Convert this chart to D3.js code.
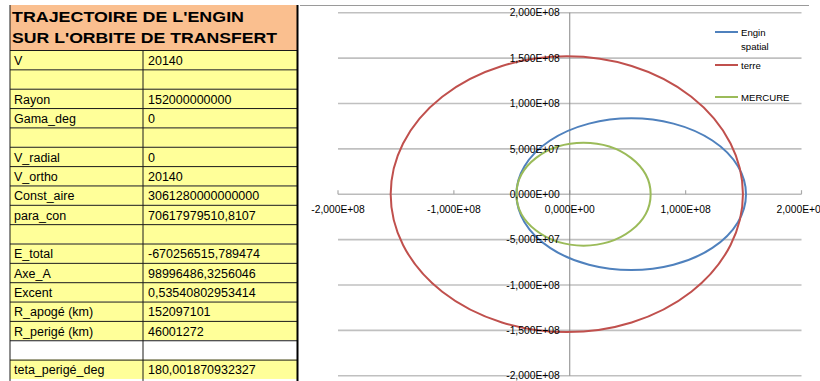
<!DOCTYPE html>
<html>
<head>
<meta charset="utf-8">
<script src="https://cdn.jsdelivr.net/npm/d3@7"></script>
<style>
  html, body { margin: 0; padding: 0; background: #fff; }
  svg { display: block; }
</style>
</head>
<body>
<svg id="sheet" width="820" height="381"></svg>
<script>
// ---- Worksheet block: transfer orbit parameters ----
const titleLines = ["TRAJECTOIRE DE L'ENGIN", "SUR L'ORBITE DE TRANSFERT"];
const paramNames = [
  "V", "", "Rayon", "Gama_deg", "", "V_radial", "V_ortho", "Const_aire",
  "para_con", "", "E_total", "Axe_A", "Excent", "R_apogé (km)",
  "R_perigé (km)", "", "teta_perigé_deg"
];
const paramValues = [
  "20140", "", "152000000000", "0", "", "0", "20140", "3061280000000000",
  "70617979510,8107", "", "-670256515,789474", "98996486,3256046",
  "0,53540802953414", "152097101", "46001272", "", "180,001870932327"
];

// ---- Orbits (km): perihelion / aphelion distances and perihelion direction ----
const seriesNames = ["Engin spatial", "terre", "MERCURE"];
const perihelia = [46001272, 149460000, 46000000];
const aphelia = [152097101, 154540000, 69820000];
const perihelionDeg = [180, 0, 180];
const seriesColors = ["#4F81BD", "#C0504D", "#9BBB59"];

// ---- Axis ticks ----
const xTicks = [-2e8, -1e8, 0, 1e8, 2e8];
const xTickLabels = ["-2,000E+08", "-1,000E+08", "0,000E+00", "1,000E+08", "2,000E+08"];
const yTicks = [2e8, 1.5e8, 1e8, 5e7, 0, -5e7, -1e8, -1.5e8, -2e8];
const yTickLabels = ["2,000E+08", "1,500E+08", "1,000E+08", "5,000E+07", "0,000E+00",
                     "-5,000E+07", "-1,000E+08", "-1,500E+08", "-2,000E+08"];

const svg = d3.select("#sheet");

// ================= Table =================
const tbl = svg.append("g");
const tLeft = 10, tMid = 143, tRight = 297.5;
const headTop = 5, headBottom = 50, rowH = 19.35;

tbl.append("rect")
  .attr("x", tLeft).attr("y", headTop)
  .attr("width", tRight - tLeft).attr("height", headBottom - headTop)
  .attr("fill", "#FABF8F");

const titleWidths = [232, 265];
tbl.selectAll("text.title").data(titleLines).join("text")
  .attr("class", "title")
  .attr("x", 12)
  .attr("y", (d, i) => 22 + i * 21)
  .attr("textLength", (d, i) => titleWidths[i])
  .attr("lengthAdjust", "spacingAndGlyphs")
  .attr("font-family", "Liberation Sans, Arial, sans-serif")
  .attr("font-weight", "bold")
  .attr("font-size", 14.5)
  .attr("fill", "#000")
  .text(d => d);

const rows = tbl.selectAll("g.row").data(paramNames).join("g")
  .attr("class", "row")
  .attr("transform", (d, i) => `translate(0,${headBottom + i * rowH})`);

rows.append("rect")
  .attr("x", tLeft).attr("y", 0)
  .attr("width", tRight - tLeft).attr("height", rowH)
  .attr("fill", (d, i) => i === 15 ? "#FFFFFF" : "#FFFF99");

rows.append("line")
  .attr("x1", tLeft).attr("x2", tRight)
  .attr("y1", 0.5).attr("y2", 0.5)
  .attr("stroke", "#1a1a1a").attr("stroke-width", 1);

rows.append("text")
  .attr("x", 14).attr("y", rowH - 4.5)
  .attr("font-family", "Liberation Sans, Arial, sans-serif")
  .attr("font-size", 12.5)
  .attr("fill", "#000")
  .text(d => d);

rows.append("text")
  .attr("x", 148).attr("y", rowH - 4.5)
  .attr("font-family", "Liberation Sans, Arial, sans-serif")
  .attr("font-size", 12.5)
  .attr("fill", "#000")
  .text((d, i) => paramValues[i]);

const tableBottom = headBottom + paramNames.length * rowH;
tbl.append("line")
  .attr("x1", tMid).attr("x2", tMid)
  .attr("y1", headBottom).attr("y2", tableBottom + 2)
  .attr("stroke", "#1a1a1a").attr("stroke-width", 1);
tbl.append("line")
  .attr("x1", tLeft).attr("x2", tLeft)
  .attr("y1", headTop).attr("y2", tableBottom + 2)
  .attr("stroke", "#1a1a1a").attr("stroke-width", 1);
tbl.append("line")
  .attr("x1", tRight).attr("x2", tRight)
  .attr("y1", headTop).attr("y2", 381)
  .attr("stroke", "#000").attr("stroke-width", 2);

// ================= Chart =================
const x = d3.scaleLinear().domain([-2e8, 2e8]).range([338, 801.5]);
const y = d3.scaleLinear().domain([-2e8, 2e8]).range([375.7, 12.7]);

const chart = svg.append("g");

// frame top edge
chart.append("line")
  .attr("x1", 300).attr("x2", 809)
  .attr("y1", 5.5).attr("y2", 5.5)
  .attr("stroke", "#9a9a9a").attr("stroke-width", 1);

// horizontal gridlines
chart.selectAll("line.grid").data(yTicks.filter(v => v !== 0)).join("line")
  .attr("class", "grid")
  .attr("x1", x(-2e8)).attr("x2", x(2e8))
  .attr("y1", d => y(d)).attr("y2", d => y(d))
  .attr("stroke", "#C0C0C0").attr("stroke-width", 1.6);

// horizontal axis with ticks
chart.append("line")
  .attr("x1", x(-2e8)).attr("x2", x(2e8))
  .attr("y1", y(0)).attr("y2", y(0))
  .attr("stroke", "#BBBBBB").attr("stroke-width", 1.4);
chart.selectAll("line.xtick").data(xTicks).join("line")
  .attr("class", "xtick")
  .attr("x1", d => x(d)).attr("x2", d => x(d))
  .attr("y1", y(0) - 4).attr("y2", y(0))
  .attr("stroke", "#AAAAAA").attr("stroke-width", 1.2);

// vertical axis
chart.append("line")
  .attr("x1", x(0)).attr("x2", x(0))
  .attr("y1", y(2e8)).attr("y2", y(-2e8))
  .attr("stroke", "#868686").attr("stroke-width", 1);

// orbits as ellipses around the Sun at the origin
const orbits = seriesNames.map((name, i) => {
  const q = perihelia[i], Q = aphelia[i];
  const a = (q + Q) / 2, b = Math.sqrt(q * Q), c = (Q - q) / 2;
  const th = perihelionDeg[i] * Math.PI / 180;
  return { name, a, b, cx: -c * Math.cos(th), cy: -c * Math.sin(th), color: seriesColors[i] };
});

chart.selectAll("ellipse.orbit").data(orbits).join("ellipse")
  .attr("class", "orbit")
  .attr("cx", d => x(d.cx))
  .attr("cy", d => y(d.cy))
  .attr("rx", d => x(d.a) - x(0))
  .attr("ry", d => y(0) - y(d.b))
  .attr("fill", "none")
  .attr("stroke", d => d.color)
  .attr("stroke-width", 2);

// tick labels
chart.selectAll("text.ylab").data(yTicks).join("text")
  .attr("class", "ylab")
  .attr("x", x(0) - 10)
  .attr("y", d => y(d) + 3.7)
  .attr("text-anchor", "end")
  .attr("font-family", "Liberation Sans, Arial, sans-serif")
  .attr("font-size", 10.3)
  .attr("fill", "#000")
  .text((d, i) => yTickLabels[i]);

chart.selectAll("text.xlab").data(xTicks).join("text")
  .attr("class", "xlab")
  .attr("x", d => x(d))
  .attr("y", y(0) + 19)
  .attr("text-anchor", "middle")
  .attr("font-family", "Liberation Sans, Arial, sans-serif")
  .attr("font-size", 10.3)
  .attr("fill", "#000")
  .text((d, i) => xTickLabels[i]);

// legend
const legendY = [32, 65, 97];
const legend = chart.selectAll("g.leg").data(orbits).join("g")
  .attr("class", "leg")
  .attr("transform", (d, i) => `translate(715,${legendY[i]})`);
legend.append("line")
  .attr("x1", 0).attr("x2", 23).attr("y1", 0).attr("y2", 0)
  .attr("stroke", d => d.color).attr("stroke-width", 2);
legend.append("text")
  .attr("x", 26).attr("y", 3.5)
  .attr("font-family", "Liberation Sans, Arial, sans-serif")
  .attr("font-size", 9.6)
  .attr("fill", "#000")
  .each(function (d) {
    const words = d.name.split(" ");
    d3.select(this).selectAll("tspan").data(words).join("tspan")
      .attr("x", 26)
      .attr("dy", (w, k) => k === 0 ? 0 : 14)
      .text(w => w);
  });
</script>
</body>
</html>
